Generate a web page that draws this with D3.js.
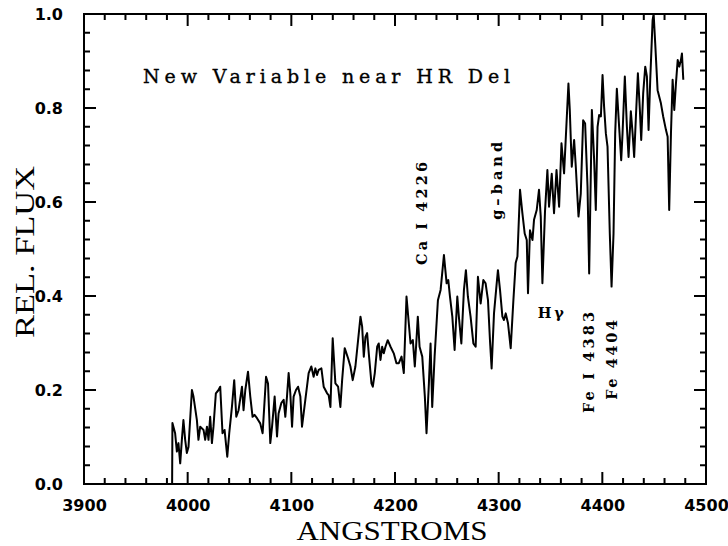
<!DOCTYPE html>
<html>
<head>
<meta charset="utf-8">
<script src="https://cdn.jsdelivr.net/npm/d3@7"></script>
<style>
  body { margin: 0; background: #fff; }
</style>
</head>
<body>
<div id="chart"></div>
<script>
// Spectrum of the new variable near HR Del
const wavelength = [
  3985.0, 3985.3, 3987.9, 3989.6, 3991.1, 3992.8, 3994.4, 3995.9, 3997.6, 3999.2,
  4000.8, 4004.1, 4005.6, 4008.9, 4010.4, 4012.1, 4015.3, 4016.9, 4018.6, 4020.1,
  4021.7, 4023.4, 4024.9, 4027.2, 4029.8, 4031.4, 4033.6, 4035.6, 4038.2, 4040.1,
  4042.7, 4044.9, 4046.9, 4049.1, 4052.4, 4053.9, 4055.6, 4058.2, 4060.4, 4062.6,
  4064.5, 4066.9, 4070.0, 4072.3, 4075.6, 4077.5, 4079.7, 4081.4, 4083.9, 4086.2,
  4087.7, 4090.3, 4092.6, 4094.2, 4095.8, 4097.4, 4099.0, 4100.7, 4102.2, 4104.5,
  4106.5, 4108.7, 4110.3, 4113.5, 4116.7, 4119.3, 4121.5, 4123.2, 4124.8, 4126.4,
  4129.0, 4131.2, 4134.5, 4136.0, 4137.7, 4139.9, 4142.5, 4145.1, 4147.3, 4149.0,
  4151.5, 4154.8, 4157.0, 4159.2, 4161.8, 4164.4, 4166.7, 4168.3, 4169.9, 4171.5,
  4173.1, 4174.7, 4177.3, 4178.6, 4180.5, 4182.8, 4184.3, 4186.0, 4187.6, 4189.2,
  4190.8, 4193.0, 4195.7, 4198.8, 4201.4, 4203.7, 4206.3, 4208.5, 4211.1, 4213.3,
  4215.0, 4217.2, 4219.1, 4220.5, 4222.0, 4223.7, 4226.3, 4228.8, 4230.4, 4232.7,
  4234.3, 4235.9, 4238.2, 4241.4, 4244.0, 4247.2, 4249.8, 4251.4, 4253.0, 4255.3,
  4257.5, 4260.1, 4261.6, 4264.0, 4266.5, 4268.4, 4270.3, 4272.9, 4275.6, 4277.8,
  4280.0, 4282.6, 4285.2, 4287.4, 4289.7, 4291.6, 4293.2, 4295.5, 4298.1, 4299.3,
  4301.3, 4303.6, 4305.1, 4306.8, 4309.0, 4311.6, 4314.2, 4316.4, 4318.1, 4320.6,
  4322.9, 4325.1, 4327.1, 4328.3, 4330.2, 4332.6, 4334.1, 4336.7, 4338.9, 4340.6,
  4342.2, 4344.7, 4347.0, 4348.6, 4351.2, 4353.4, 4355.8, 4358.3, 4360.6, 4363.1,
  4367.3, 4368.6, 4370.5, 4372.8, 4374.4, 4377.0, 4379.2, 4381.5, 4383.4, 4385.7,
  4387.3, 4389.9, 4392.1, 4393.7, 4395.4, 4396.9, 4398.6, 4400.2, 4401.7, 4403.4,
  4405.0, 4407.2, 4408.9, 4410.8, 4412.4, 4414.0, 4416.2, 4418.2, 4419.5, 4421.7,
  4423.7, 4425.3, 4427.5, 4429.2, 4430.7, 4432.4, 4434.3, 4436.2, 4437.5, 4439.4,
  4441.4, 4443.0, 4444.6, 4446.2, 4448.5, 4449.5, 4451.0, 4453.3, 4456.5, 4458.7,
  4461.4, 4463.0, 4464.5, 4466.2, 4467.8, 4469.4, 4471.0, 4472.7, 4474.2, 4475.8,
  4476.8, 4478.1
];

const flux = [
  0.000, 0.130, 0.108, 0.069, 0.087, 0.044, 0.094, 0.136, 0.094, 0.066,
  0.079, 0.200, 0.186, 0.136, 0.094, 0.122, 0.115, 0.094, 0.122, 0.094,
  0.143, 0.087, 0.122, 0.193, 0.200, 0.207, 0.108, 0.115, 0.058, 0.108,
  0.164, 0.221, 0.143, 0.157, 0.207, 0.157, 0.200, 0.239, 0.186, 0.143,
  0.147, 0.140, 0.129, 0.108, 0.228, 0.214, 0.087, 0.122, 0.186, 0.101,
  0.150, 0.172, 0.179, 0.143, 0.186, 0.236, 0.193, 0.122, 0.186, 0.200,
  0.207, 0.186, 0.122, 0.179, 0.236, 0.250, 0.228, 0.246, 0.232, 0.243,
  0.246, 0.207, 0.193, 0.189, 0.164, 0.310, 0.214, 0.207, 0.164, 0.221,
  0.289, 0.267, 0.250, 0.221, 0.250, 0.306, 0.356, 0.335, 0.271, 0.313,
  0.321, 0.278, 0.214, 0.207, 0.236, 0.292, 0.299, 0.264, 0.292, 0.278,
  0.292, 0.306, 0.292, 0.278, 0.257, 0.257, 0.271, 0.236, 0.399, 0.342,
  0.299, 0.306, 0.250, 0.299, 0.356, 0.292, 0.271, 0.186, 0.108, 0.214,
  0.299, 0.164, 0.271, 0.391, 0.413, 0.487, 0.427, 0.434, 0.399, 0.356,
  0.285, 0.399, 0.356, 0.299, 0.413, 0.455, 0.399, 0.356, 0.299, 0.292,
  0.441, 0.384, 0.434, 0.427, 0.391, 0.306, 0.246, 0.363, 0.427, 0.455,
  0.413, 0.356, 0.349, 0.363, 0.342, 0.289, 0.391, 0.470, 0.484, 0.626,
  0.576, 0.533, 0.519, 0.406, 0.540, 0.519, 0.562, 0.583, 0.626, 0.569,
  0.427, 0.580, 0.668, 0.590, 0.660, 0.576, 0.668, 0.590, 0.725, 0.661,
  0.852, 0.796, 0.675, 0.732, 0.675, 0.569, 0.618, 0.774, 0.767, 0.633,
  0.448, 0.796, 0.689, 0.583, 0.760, 0.785, 0.782, 0.870, 0.803, 0.746,
  0.718, 0.533, 0.420, 0.533, 0.746, 0.841, 0.760, 0.689, 0.746, 0.867,
  0.760, 0.696, 0.793, 0.746, 0.696, 0.782, 0.874, 0.796, 0.732, 0.831,
  0.888, 0.867, 0.753, 0.860, 0.987, 1.000, 0.938, 0.838, 0.810, 0.782,
  0.753, 0.739, 0.583, 0.746, 0.860, 0.796, 0.852, 0.902, 0.888, 0.902,
  0.916, 0.860
];

const xTicks = [3900, 4000, 4100, 4200, 4300, 4400, 4500];
const yTicks = [0.0, 0.2, 0.4, 0.6, 0.8, 1.0];
const xMinorTicks = [3920, 3940, 3960, 3980, 4020, 4040, 4060, 4080, 4120, 4140, 4160, 4180,
                     4220, 4240, 4260, 4280, 4320, 4340, 4360, 4380, 4420, 4440, 4460, 4480];
const yMinorTicks = [0.04, 0.08, 0.12, 0.16, 0.24, 0.28, 0.32, 0.36, 0.44, 0.48, 0.52, 0.56,
                     0.64, 0.68, 0.72, 0.76, 0.84, 0.88, 0.92, 0.96];

// line identifications, anchored in data units (start of text)
const lineLabels = [
  { text: "Ca I 4226", x: 4230.4, y: 0.466, len: 103, vertical: true },
  { text: "g\u2013band",  x: 4302.9, y: 0.562, len: 78,  vertical: true },
  { text: "H\u03b3",      x: 4337.7, y: 0.353, len: 26,  vertical: false },
  { text: "Fe I 4383", x: 4391.8, y: 0.151, len: 101, vertical: true },
  { text: "Fe 4404",   x: 4414.0, y: 0.179, len: 80,  vertical: true }
];

(function() {
    const W = 728, H = 546;
    const margin = {top: 14, right: 22, bottom: 62, left: 84},
        width = W - margin.left - margin.right,
        height = H - margin.top - margin.bottom;

    const root = d3.select("#chart")
        .append("svg")
        .attr("width", W)
        .attr("height", H);

    const svg = root.append("g")
        .attr("transform", `translate(${margin.left},${margin.top})`);

    const x = d3.scaleLinear().domain([3900, 4500]).range([0, width]);
    const y = d3.scaleLinear().domain([0, 1]).range([height, 0]);

    // tick labels through d3 axes
    const labelStyle = g => {
        g.select(".domain").remove();
        g.selectAll(".tick line").remove();
        g.selectAll("text")
            .attr("fill", "#000")
            .attr("font-family", "'DejaVu Sans', sans-serif")
            .attr("font-weight", "bold")
            .attr("font-size", 16);
    };

    svg.append("g")
        .attr("transform", `translate(0,${height})`)
        .call(d3.axisBottom(x).tickValues(xTicks).tickSize(0)
            .tickPadding(16).tickFormat(d3.format("d")))
        .call(labelStyle);

    svg.append("g")
        .call(d3.axisLeft(y).tickValues(yTicks).tickSize(0)
            .tickPadding(21).tickFormat(d3.format(".1f")))
        .call(labelStyle);

    // frame and inward tick marks traced as one long polyline per side,
    // so each side is a single continuous stroke (frame edge + teeth)
    const bottomPts = [[0, height]];
    const topPts = [[0, 0]];
    const allX = xTicks.concat(xMinorTicks).sort((a, b) => a - b);
    allX.forEach(v => {
        const len = xTicks.includes(v) ? 12 : 6;
        bottomPts.push([x(v), height], [x(v), height - len], [x(v), height]);
        topPts.push([x(v), 0], [x(v), len], [x(v), 0]);
    });
    bottomPts.push([width, height]);
    topPts.push([width, 0]);

    const leftPts = [[0, height]];
    const rightPts = [[width, height]];
    const allY = yTicks.concat(yMinorTicks).sort((a, b) => a - b);
    allY.forEach(v => {
        const len = yTicks.includes(v) ? 12 : 6;
        leftPts.push([0, y(v)], [len, y(v)], [0, y(v)]);
        rightPts.push([width, y(v)], [width - len, y(v)], [width, y(v)]);
    });
    leftPts.push([0, 0]);
    rightPts.push([width, 0]);

    const poly = d3.line();
    svg.selectAll("path.side")
        .data([bottomPts, topPts, leftPts, rightPts])
        .enter()
        .append("path")
        .attr("class", "side")
        .attr("d", poly)
        .attr("fill", "none")
        .attr("stroke", "#000")
        .attr("stroke-width", 2)
        .attr("stroke-linejoin", "miter")
        .attr("stroke-linecap", "square");

    // spectrum
    const data = wavelength.map((w, i) => ({w: w, f: flux[i]}));
    const line = d3.line()
        .x(d => x(d.w))
        .y(d => y(d.f));

    svg.append("path")
        .datum(data)
        .attr("fill", "none")
        .attr("stroke", "#000")
        .attr("stroke-width", 2)
        .attr("stroke-linejoin", "round")
        .attr("d", line);

    // title inside the plot
    svg.append("text")
        .attr("x", x(3957.0))
        .attr("y", y(0.854))
        .attr("font-family", "'DejaVu Serif', serif")
        .attr("font-size", 19)
        .attr("stroke", "#000")
        .attr("stroke-width", 0.35)
        .attr("textLength", 367)
        .attr("lengthAdjust", "spacing")
        .text("New Variable near HR Del");

    // line labels
    lineLabels.forEach(d => {
        const t = svg.append("text")
            .attr("font-family", "'DejaVu Serif', serif")
            .attr("font-size", 14.5)
            .attr("font-weight", "bold")
            .attr("textLength", d.len)
            .attr("lengthAdjust", "spacing")
            .text(d.text);
        if (d.vertical) {
            t.attr("transform", `translate(${x(d.x)},${y(d.y)}) rotate(-90)`);
        } else {
            t.attr("x", x(d.x)).attr("y", y(d.y));
        }
    });

    // axis titles
    root.append("text")
        .attr("x", margin.left + width / 2 - 3)
        .attr("y", 540)
        .attr("text-anchor", "middle")
        .attr("font-family", "'Liberation Serif', serif")
        .attr("font-size", 27)
        .attr("textLength", 191)
        .attr("lengthAdjust", "spacingAndGlyphs")
        .text("ANGSTROMS");

    root.append("text")
        .attr("transform", `translate(34,${margin.top + height / 2 + 3}) rotate(-90)`)
        .attr("text-anchor", "middle")
        .attr("font-family", "'Liberation Serif', serif")
        .attr("font-size", 28)
        .attr("textLength", 172)
        .attr("lengthAdjust", "spacingAndGlyphs")
        .text("REL. FLUX");
})();
</script>
</body>
</html>
